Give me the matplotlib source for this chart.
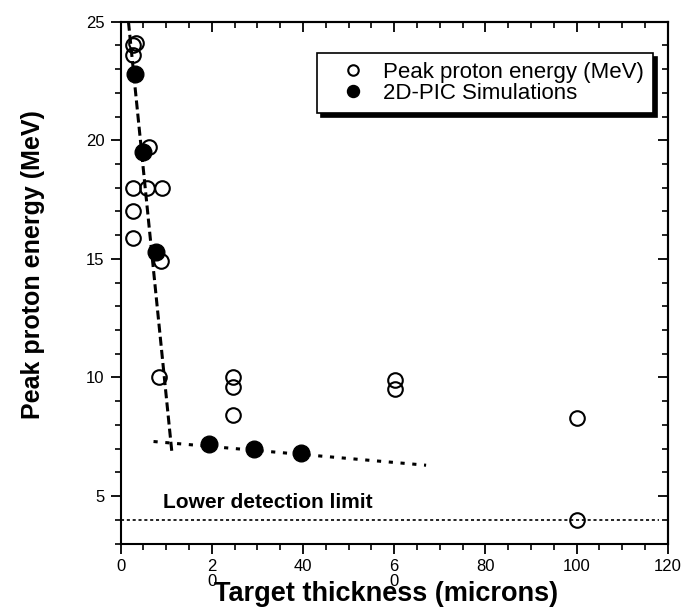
import matplotlib
matplotlib.use("Agg")
import matplotlib.pyplot as plt
from matplotlib.ticker import MultipleLocator, FixedLocator, FixedFormatter

plt.rcParams['font.family'] = ['Liberation Sans', 'DejaVu Sans']
plt.rcParams['lines.scale_dashes'] = False

# ---- data ----
open_x = [2.8, 3.4, 2.8, 2.8, 2.8, 2.8, 5.8, 6.1, 9.0, 8.8, 8.4, 24.6, 24.6, 24.6, 60.2, 60.2, 100.2, 100.2]
open_y = [24.0, 24.1, 23.6, 18.0, 17.0, 15.9, 18.0, 19.7, 18.0, 14.9, 10.0, 10.0, 9.6, 8.4, 9.9, 9.5, 8.3, 4.0]
sim_x = [3.1, 5.0, 7.7, 19.4, 29.3, 39.5]
sim_y = [22.8, 19.5, 15.3, 7.2, 7.0, 6.8]
fit1_x = [1.7, 11.2]
fit1_y = [25.0, 6.9]
fit2_x = [7.2, 67.0]
fit2_y = [7.3, 6.3]
limit_x = [0, 118]
limit_y = [4.0, 4.0]
xtick_vals = [0, 20, 40, 60, 80, 100, 120]
xtick_labels = ['0', '2\n0', '40', '6\n0', '80', '100', '120']
ytick_vals = [5, 10, 15, 20, 25]
ytick_labels = ['5', '10', '15', '20', '25']

W, H = 683, 615
fig = plt.figure(figsize=(W / 100, H / 100), dpi=100)
ax = fig.add_axes([120.7 / W, 1 - 543.5 / H, (667.7 - 120.7) / W, (543.5 - 21.7) / H])
ax.set_xlim(0, 120)
ax.set_ylim(3, 25)

# lines
ax.plot(fit1_x, fit1_y, color='black', lw=2.2, dashes=(6.5, 3.0), zorder=2)
ax.plot(fit2_x, fit2_y, color='black', lw=2.2, dashes=(3.0, 5.5), zorder=2)
ax.plot(limit_x, limit_y, color='black', lw=1.2, dashes=(2.2, 2.0), zorder=2)

ax.plot(open_x, open_y, linestyle='none', marker='o', ms=10.5, mew=1.5,
        mfc='none', mec='black', zorder=3, label='Peak proton energy (MeV)')
ax.plot(sim_x, sim_y, linestyle='none', marker='o', ms=12, mew=1,
        mfc='black', mec='black', zorder=4, label='2D-PIC Simulations')

ax.text(9.35, 4.48, 'Lower detection limit', fontsize=15, fontweight='bold',
        ha='left', va='baseline')

# ticks
for s in ax.spines.values():
    s.set_linewidth(1.5)
ax.xaxis.set_major_locator(FixedLocator(xtick_vals))
ax.xaxis.set_major_formatter(FixedFormatter(xtick_labels))
ax.xaxis.set_minor_locator(MultipleLocator(5))
ax.yaxis.set_major_locator(FixedLocator(ytick_vals))
ax.yaxis.set_major_formatter(FixedFormatter(ytick_labels))
ax.yaxis.set_minor_locator(MultipleLocator(1))
ax.tick_params(which='major', direction='out', length=7.5, width=1.3, labelsize=12, pad=4)
ax.tick_params(which='minor', direction='out', length=4, width=1.2)
for lab in ax.get_xticklabels():
    lab.set_linespacing(1.0)

secx = ax.secondary_xaxis('top')
secx.xaxis.set_major_locator(FixedLocator(xtick_vals))
secx.xaxis.set_minor_locator(MultipleLocator(5))
secx.tick_params(which='major', direction='in', length=7.5, width=1.3, labeltop=False)
secx.tick_params(which='minor', direction='in', length=4, width=1.2)
secx.spines['top'].set_linewidth(1.5)

secy = ax.secondary_yaxis('right')
secy.yaxis.set_major_locator(FixedLocator(ytick_vals))
secy.yaxis.set_minor_locator(MultipleLocator(1))
secy.tick_params(which='major', direction='in', length=7.5, width=1.3, labelright=False)
secy.tick_params(which='minor', direction='in', length=4, width=1.2)
secy.spines['right'].set_linewidth(1.5)

ax.set_xlabel('Target thickness (microns)', fontsize=19.5, fontweight='bold')
ax.xaxis.set_label_coords(0.485, -0.072)
ax.set_ylabel('Peak proton energy (MeV)', fontsize=18, fontweight='bold')
ax.yaxis.set_label_coords(-0.138, 0.534)

leg = ax.legend(loc='upper left', bbox_to_anchor=(316.7 / W, 1 - 53.3 / H),
                bbox_transform=fig.transFigure, fontsize=16, frameon=True,
                fancybox=False, shadow={'color': 'black', 'alpha': 1.0, 'ox': 3, 'oy': -3},
                borderpad=0.4, labelspacing=0.0, handlelength=2.5,
                handletextpad=0.1, borderaxespad=0, markerscale=0.72)
leg.get_frame().set_edgecolor('black')
leg.get_frame().set_linewidth(1.2)
leg.set_zorder(10)

fig.savefig('out.png', dpi=100)
